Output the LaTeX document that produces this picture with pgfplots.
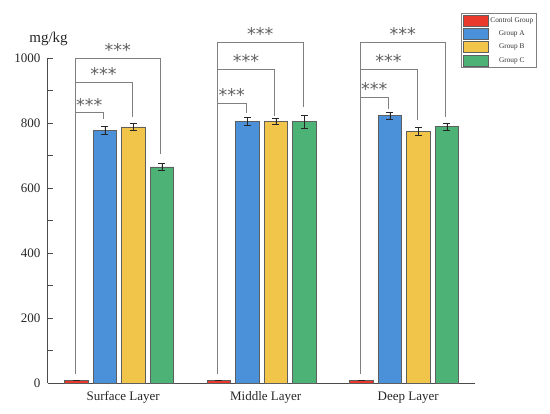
\documentclass[border=0pt]{standalone}
\usepackage{pgfplots}
\pgfplotsset{compat=1.18}
\usepackage{fontspec}
\setmainfont{Liberation Serif}
\newfontfamily\astfont{DejaVu Sans}
\definecolor{cred}{RGB}{233,57,45}
\definecolor{cblue}{RGB}{74,145,218}
\definecolor{cyellow}{RGB}{240,197,74}
\definecolor{cgreen}{RGB}{77,178,118}
\definecolor{edge}{RGB}{95,95,95}
\definecolor{brk}{RGB}{128,128,128}
\newcommand\brk[6]{%
  \draw[brk, line width=0.9pt] (axis cs:#1,30) |- (axis cs:#3,#4) -- (axis cs:#3,#5);
  \node[anchor=base, text=black!62, font=\astfont\fontsize{17.5}{17.5}\selectfont, inner sep=0pt] at (axis cs:#6,#4) [yshift=1.5pt] {***};}
\begin{document}
\begin{tikzpicture}
\path[use as bounding box] (0,0) rectangle (550pt,414pt);
\begin{axis}[
  at={(47.9pt,30.7pt)}, anchor=south west,
  scale only axis, width=427.6pt, height=325pt,
  xmin=-0.5, xmax=2.5, ymin=0, ymax=1000,
  axis x line=bottom, axis y line=left,
  axis line style={-, draw=black!70, line width=0.9pt},
  ybar=5pt, bar width=23.5pt,
  legend image code/.code={\draw[#1, draw=edge, line width=0.5pt] (0pt,-5.5pt) rectangle (25pt,5.5pt);},
  xtick={0,1,2}, xticklabels={Surface Layer, Middle Layer, Deep Layer},
  x tick style={draw=none},
  ytick={0,200,...,1000}, minor ytick={100,300,...,900},
  tick align=inside, major tick length=5pt, minor tick length=5pt,
  y tick style={draw=black!70, line width=0.8pt},
  tick label style={font=\fontsize{13}{13}\selectfont, text=black!85},
  /pgf/number format/assume math mode=true,
  /pgf/number format/1000 sep={},
  yticklabel style={xshift=-4pt},
  xticklabel style={yshift=-5pt, xshift=4pt},
  clip=false,
  error bars/y dir=both, error bars/y explicit,
  error bars/error bar style={black!85, line width=0.6pt},
  error bars/error mark options={rotate=90, mark size=3.5pt, black!85, line width=0.6pt},
  legend style={at={(1.144,1.140)}, anchor=north east, draw=black!50, line width=0.8pt,
    font=\fontsize{7.3}{7.3}\selectfont, inner sep=1.5pt, row sep=1.8pt, text=black!80},
  legend cell align=center,
]
\addplot[fill=cred, draw=edge, line width=0.5pt] coordinates {(0,10) +- (0,0) (1,10) +- (0,0) (2,10) +- (0,0)};
\addplot[fill=cblue, draw=edge, line width=0.5pt] coordinates {(0,778) +- (0,12) (1,805) +- (0,12) (2,824) +- (0,11)};
\addplot[fill=cyellow, draw=edge, line width=0.5pt] coordinates {(0,789) +- (0,10) (1,805) +- (0,9) (2,775) +- (0,12)};
\addplot[fill=cgreen, draw=edge, line width=0.5pt] coordinates {(0,666) +- (0,10) (1,806) +- (0,20) (2,790) +- (0,11)};
\legend{Control Group, Group A, Group B, Group C}
% brackets: left x, -, right x, top y, right bottom y, text x
\brk{-0.31}{}{-0.11}{832}{812}{-0.21}
\brk{-0.31}{}{0.09}{926}{820}{-0.11}
\brk{-0.31}{}{0.29}{1000}{706}{-0.01}
\brk{0.69}{}{0.89}{861}{833}{0.79}
\brk{0.69}{}{1.09}{967}{822}{0.89}
\brk{0.69}{}{1.29}{1049}{850}{0.99}
\brk{1.69}{}{1.89}{880}{845}{1.79}
\brk{1.69}{}{2.09}{967}{810}{1.89}
\brk{1.69}{}{2.29}{1049}{820}{1.99}
\end{axis}
\node[font=\fontsize{15}{15}\selectfont, text=black!85, anchor=north] at (48.5pt,385pt) {mg/kg};
\end{tikzpicture}
\end{document}
